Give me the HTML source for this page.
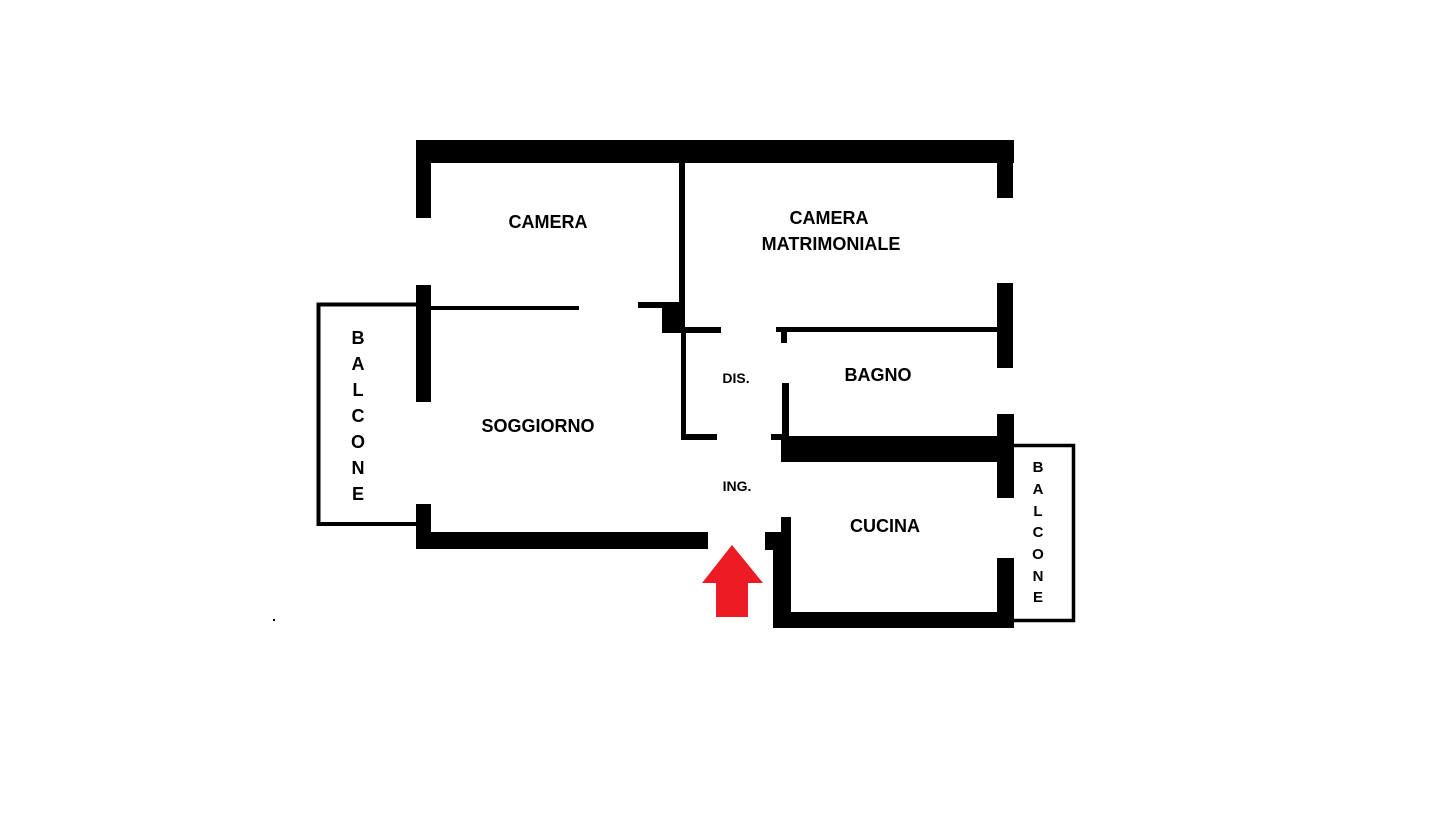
<!DOCTYPE html>
<html><head><meta charset="utf-8"><style>
html,body{margin:0;padding:0;background:#fff;}
svg{display:block;}
text{font-family:"Liberation Sans",sans-serif;font-weight:bold;fill:#000;}
</style></head><body>
<svg width="1451" height="820" viewBox="0 0 1451 820" xmlns="http://www.w3.org/2000/svg">
<rect width="1451" height="820" fill="#fff"/>
<g fill="#000">
<rect x="416" y="140" width="598" height="23"/>
<rect x="416" y="140" width="15" height="78"/>
<rect x="997" y="140" width="16" height="58"/>
<rect x="416" y="285" width="15" height="117"/>
<rect x="416" y="504" width="15" height="45"/>
<rect x="416" y="532" width="292" height="17"/>
<rect x="431" y="306" width="148" height="4"/>
<rect x="638" y="302" width="44" height="6"/>
<rect x="662" y="302" width="23" height="31"/>
<rect x="679" y="163" width="6" height="164"/>
<rect x="681" y="327" width="5" height="112"/>
<rect x="681" y="327" width="40" height="6"/>
<rect x="776" y="327" width="224" height="5"/>
<rect x="781" y="327" width="6" height="16"/>
<rect x="681" y="434" width="36" height="6"/>
<rect x="771" y="434" width="14" height="6"/>
<rect x="782" y="383" width="7" height="53"/>
<rect x="781" y="436" width="219" height="26"/>
<rect x="997" y="283" width="16" height="85"/>
<rect x="997" y="414" width="17" height="84"/>
<rect x="997" y="558" width="17" height="70"/>
<rect x="781" y="517" width="10" height="111"/>
<rect x="765" y="532" width="26" height="18"/>
<rect x="773" y="550" width="18" height="78"/>
<rect x="773" y="612" width="241" height="16"/>
<rect x="273" y="619" width="2" height="2"/>
</g>
<polyline points="416,304.5 318.5,304.5 318.5,524 416,524" fill="none" stroke="#000" stroke-width="4"/>
<polyline points="1013,445.5 1073.5,445.5 1073.5,620.5 1013,620.5" fill="none" stroke="#000" stroke-width="3.5"/>
<polygon points="732,545 763,583 748,583 748,617 716,617 716,583 702,583" fill="#ED1C24"/>
<g text-anchor="middle" font-size="18">
<text x="548" y="228">CAMERA</text>
<text x="829" y="224">CAMERA</text>
<text x="831" y="250">MATRIMONIALE</text>
<text x="878" y="381">BAGNO</text>
<text x="538" y="432">SOGGIORNO</text>
<text x="885" y="532">CUCINA</text>
</g>
<g text-anchor="middle" font-size="14">
<text x="736" y="383">DIS.</text>
<text x="737" y="491">ING.</text>
</g>
<g text-anchor="middle" font-size="18">
<text x="358" y="344">B</text>
<text x="358" y="370">A</text>
<text x="358" y="396">L</text>
<text x="358" y="422">C</text>
<text x="358" y="448">O</text>
<text x="358" y="474">N</text>
<text x="358" y="500">E</text>
</g>
<g text-anchor="middle" font-size="15">
<text x="1038" y="472">B</text>
<text x="1038" y="494">A</text>
<text x="1038" y="516">L</text>
<text x="1038" y="537">C</text>
<text x="1038" y="559">O</text>
<text x="1038" y="581">N</text>
<text x="1038" y="602">E</text>
</g>
</svg>
</body></html>
